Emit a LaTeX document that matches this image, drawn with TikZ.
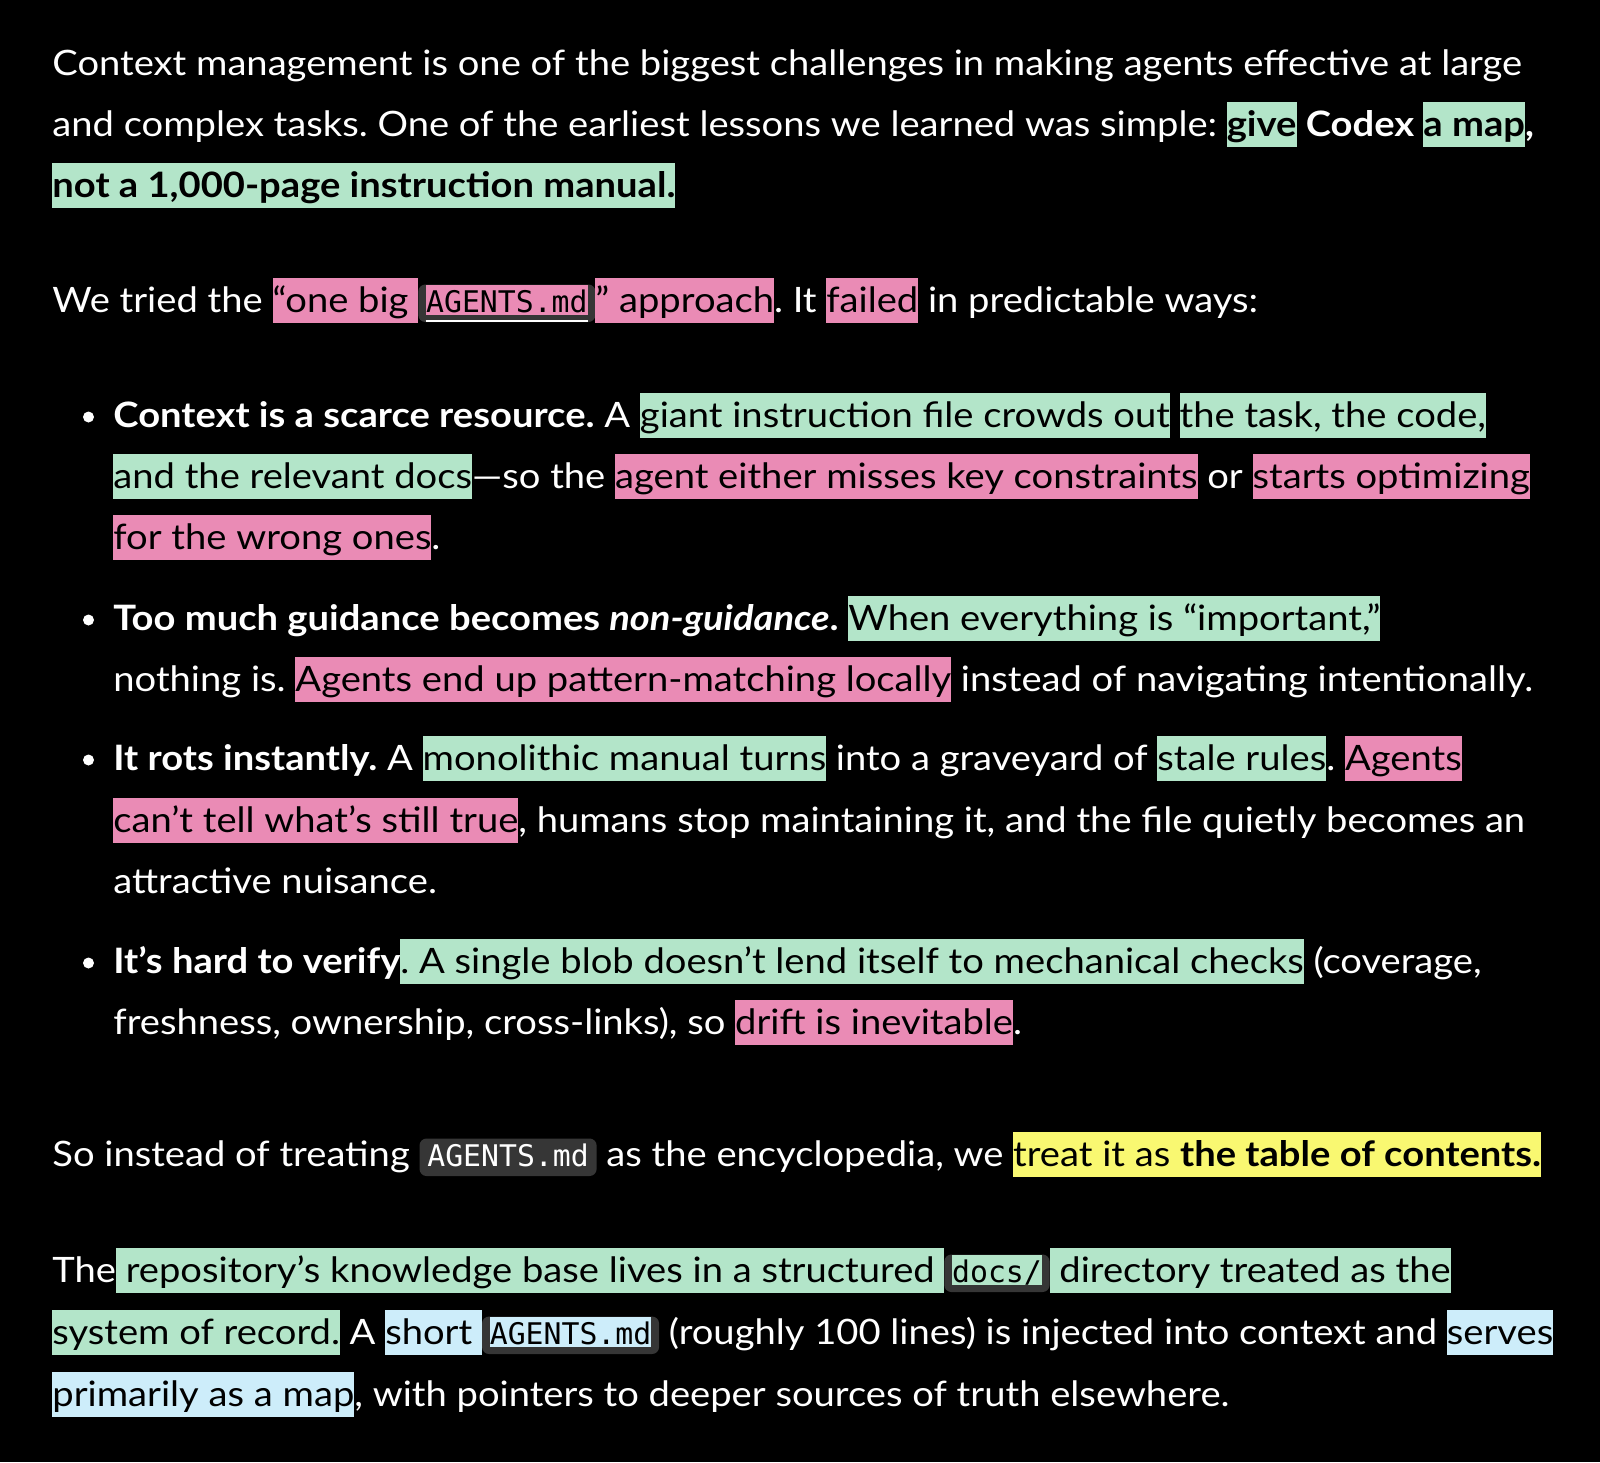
\documentclass[tikz,border=0pt]{standalone}
\usepackage{fontspec}
\usepackage{xcolor}
\setmainfont{Lato}[FakeStretch=1.09]
\newfontfamily\monofont{DejaVu Sans Mono}
\frenchspacing

\definecolor{hlgreen}{HTML}{B3E5C9}
\definecolor{hlpink}{HTML}{EA8BB5}
\definecolor{hlyellow}{HTML}{F9F871}
\definecolor{hlblue}{HTML}{CDEDFA}
\definecolor{codegray}{HTML}{363636}

\tikzset{
  line/.style={anchor=base west, inner sep=0pt, text=white,
    font=\fontsize{17.5pt}{21pt}\selectfont},
  codebox/.style={fill=codegray, rounded corners=3.5pt, inner xsep=3.9pt,
    inner ysep=0pt, text height=13.75pt, text depth=5pt, text=white,
    font=\fontsize{14.9pt}{18pt}\monofont},
  linkline/.style={white, line width=1pt},
  bulletdot/.style={circle, fill=white, inner sep=0pt, minimum size=5.5pt}
}

% highlighted runs of text
\newcommand\hl[2]{{\setlength\fboxsep{0pt}\colorbox{#1}{\color{black}\rule[-5.5pt]{0pt}{22.5pt}#2}}}
\newcommand\hlin[2]{{\setlength\fboxsep{0pt}\colorbox{#1}{\color{black}\rule[-1.5pt]{0pt}{15.25pt}#2}}}
% inline code
\newcommand\code[1]{\tikz[baseline=(cd.base)]\node[codebox] (cd) {#1};}
\newcommand\hlcode[2]{\tikz[baseline=(cd.base)]\node[codebox] (cd) {\hlin{#1}{#2}};}
\newcommand\hlcodelink[2]{\tikz[baseline=(cd.base)]{\node[codebox] (cd) {\hlin{#1}{#2}};
  \draw[linkline] ([xshift=3.9pt,yshift=0.5pt]cd.south west) -- ([xshift=-3.9pt,yshift=0.5pt]cd.south east);}}

\begin{document}
\begin{tikzpicture}[x=0.5pt,y=-0.5pt]
  \fill[black] (0,0) rectangle (1600,1462);
  \useasboundingbox (0,0) rectangle (1600,1462);

  % first paragraph
  \node[line] (p1a) at (52,75) {Context management is one of the biggest challenges in making agents effective at large};
  \node[line] (p1b) at (52,136) {and complex tasks. One of the earliest lessons we learned was simple: {\bfseries\hl{hlgreen}{give} Codex \hl{hlgreen}{a map},}};
  \node[line] (p1c) at (52,197) {\bfseries\hl{hlgreen}{not a 1,000-page instruction manual.}};

  \node[line] (p2) at (52,312) {We tried the \hl{hlpink}{“one big }\hlcodelink{hlpink}{AGENTS.md}\hl{hlpink}{” approach}. It \hl{hlpink}{failed} in predictable ways:};

  % bullet list
  \foreach \y/\name in {417/d1,620/d2,760/d3,963/d4}
    \node[bulletdot] (\name) at (88.5,\y) {};

  \node[line] (b1a) at (113,427) {\textbf{Context is a scarce resource.} A \hl{hlgreen}{giant instruction file crowds out} \hl{hlgreen}{the task, the code,}};
  \node[line] (b1b) at (113,488) {\hl{hlgreen}{and the relevant docs}—so the \hl{hlpink}{agent either misses key constraints} or \hl{hlpink}{starts optimizing}};
  \node[line] (b1c) at (113,549) {\hl{hlpink}{for the wrong ones}.};

  \node[line] (b2a) at (113,630) {\textbf{Too much guidance becomes \textit{non-guidance}.} \hl{hlgreen}{When everything is “important,”}};
  \node[line] (b2b) at (113,691) {nothing is. \hl{hlpink}{Agents end up pattern-matching locally} instead of navigating intentionally.};

  \node[line] (b3a) at (113,770) {\textbf{It rots instantly.} A \hl{hlgreen}{monolithic manual turns} into a graveyard of \hl{hlgreen}{stale rules}. \hl{hlpink}{Agents}};
  \node[line] (b3b) at (113,832) {\hl{hlpink}{can’t tell what’s still true}, humans stop maintaining it, and the file quietly becomes an};
  \node[line] (b3c) at (113,893) {attractive nuisance.};

  \node[line] (b4a) at (113,973) {\textbf{It’s hard to verify}\hl{hlgreen}{. A single blob doesn’t lend itself to mechanical checks} (coverage,};
  \node[line] (b4b) at (113,1034) {freshness, ownership, cross-links), so \hl{hlpink}{drift is inevitable}.};

  % closing paragraphs
  \node[line] (p3) at (52,1166) {So instead of treating \code{AGENTS.md} as the encyclopedia, we \hl{hlyellow}{treat it as \textbf{the table of contents.}}};

  \node[line] (p4a) at (52,1282) {The\hl{hlgreen}{ repository’s knowledge base lives in a structured }\hlcode{hlgreen}{docs/}\hl{hlgreen}{ directory treated as the}};
  \node[line] (p4b) at (52,1344) {\hl{hlgreen}{system of record.} A \hl{hlblue}{short }\hlcode{hlblue}{AGENTS.md} (roughly 100 lines) is injected into context and \hl{hlblue}{serves}};
  \node[line] (p4c) at (52,1406) {\hl{hlblue}{primarily as a map}, with pointers to deeper sources of truth elsewhere.};
\end{tikzpicture}
\end{document}
